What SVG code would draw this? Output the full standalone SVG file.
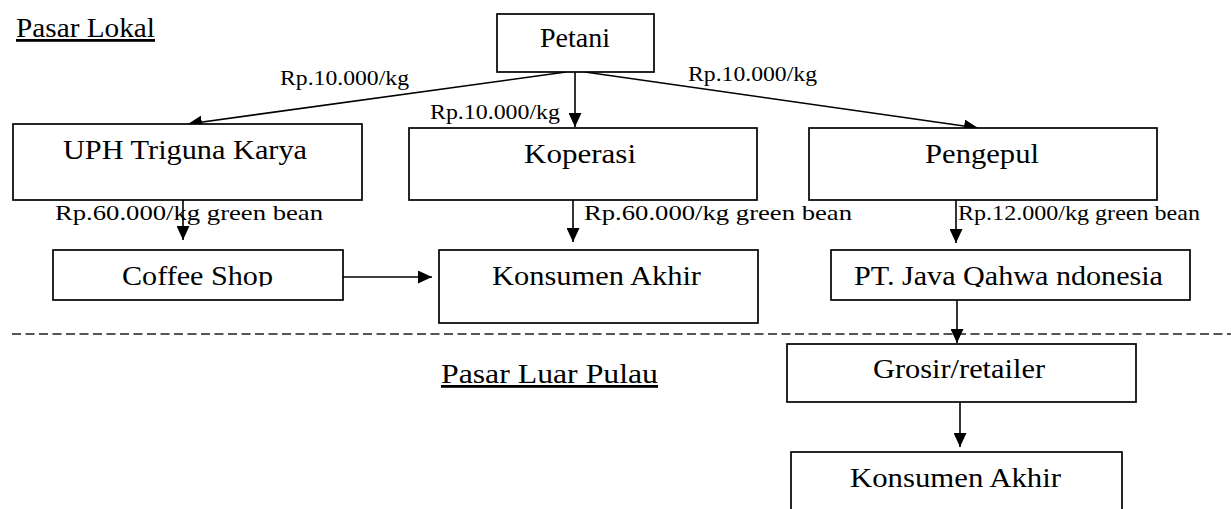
<svg xmlns="http://www.w3.org/2000/svg" width="1231" height="509" viewBox="0 0 1231 509">
<style>
.box{fill:#fff;stroke:#000;stroke-width:1.7}
.t{font-family:"Liberation Serif","Times New Roman",Times,serif;font-size:28px;fill:#000}
.lb{font-family:"Liberation Serif","Times New Roman",Times,serif;font-size:21.5px;fill:#000}
.title{font-family:"Liberation Serif","Times New Roman",Times,serif;font-size:28px;fill:#000;text-decoration:underline}
.ln{stroke:#000;stroke-width:1.6;fill:none}
.dash{stroke:#555;stroke-width:2;stroke-dasharray:9 4.5;fill:none}
</style>
<defs>
<marker id="ah" markerUnits="userSpaceOnUse" markerWidth="15" markerHeight="13" refX="14" refY="6.5" orient="auto">
<path d="M0,0 L14,6.5 L0,13 z" fill="#000"/>
</marker>
<clipPath id="clipCoffee"><rect x="53" y="251" width="290" height="35.5"/></clipPath>
<clipPath id="clipPT"><rect x="831" y="251" width="359" height="36"/></clipPath>
</defs>
<rect width="1231" height="509" fill="#fff"/>

<g id="titles">
<text class="title" x="16" y="37" textLength="139" lengthAdjust="spacingAndGlyphs">Pasar Lokal</text>
<text class="title" x="441" y="383" textLength="217" lengthAdjust="spacingAndGlyphs">Pasar Luar Pulau</text>
</g>

<line class="dash" x1="12" y1="334" x2="1231" y2="334"/>

<g id="connectors">
<line class="ln" x1="575" y1="72" x2="575" y2="127" marker-end="url(#ah)"/>
<line class="ln" x1="566" y1="72" x2="188" y2="124" marker-end="url(#ah)"/>
<line class="ln" x1="585" y1="72" x2="978" y2="128" marker-end="url(#ah)"/>
<line class="ln" x1="183" y1="200" x2="183" y2="240" marker-end="url(#ah)"/>
<line class="ln" x1="573" y1="200" x2="573" y2="242" marker-end="url(#ah)"/>
<line class="ln" x1="956" y1="200" x2="956" y2="243" marker-end="url(#ah)"/>
<line class="ln" x1="343" y1="277" x2="432" y2="277" marker-end="url(#ah)"/>
<line class="ln" x1="957" y1="300" x2="957" y2="343" marker-end="url(#ah)"/>
<line class="ln" x1="960" y1="402" x2="960" y2="447" marker-end="url(#ah)"/>
<text class="lb" x="280" y="85" textLength="129" lengthAdjust="spacingAndGlyphs">Rp.10.000/kg</text>
<text class="lb" x="430" y="119" textLength="130" lengthAdjust="spacingAndGlyphs">Rp.10.000/kg</text>
<text class="lb" x="688" y="81" textLength="129" lengthAdjust="spacingAndGlyphs">Rp.10.000/kg</text>
<text class="lb" x="55" y="220" textLength="268" lengthAdjust="spacingAndGlyphs">Rp.60.000/kg green bean</text>
<text class="lb" x="584" y="220" textLength="268" lengthAdjust="spacingAndGlyphs">Rp.60.000/kg green bean</text>
<text class="lb" x="958" y="220" textLength="242" lengthAdjust="spacingAndGlyphs">Rp.12.000/kg green bean</text>
</g>

<g id="petani">
<rect class="box" x="497" y="14" width="157" height="58"/>
<text class="t" x="540" y="47" textLength="70" lengthAdjust="spacingAndGlyphs">Petani</text>
</g>
<g id="uph">
<rect class="box" x="13" y="124" width="349" height="76"/>
<text class="t" x="63" y="159" textLength="244" lengthAdjust="spacingAndGlyphs">UPH Triguna Karya</text>
</g>
<g id="koperasi">
<rect class="box" x="409" y="128" width="348" height="72"/>
<text class="t" x="524" y="163" textLength="112" lengthAdjust="spacingAndGlyphs">Koperasi</text>
</g>
<g id="pengepul">
<rect class="box" x="809" y="128" width="348" height="72"/>
<text class="t" x="925" y="163" textLength="114" lengthAdjust="spacingAndGlyphs">Pengepul</text>
</g>
<g id="coffee-shop">
<rect class="box" x="53" y="250" width="290" height="50"/>
<text class="t" x="122" y="284.5" textLength="151" lengthAdjust="spacingAndGlyphs" clip-path="url(#clipCoffee)">Coffee Shop</text>
</g>
<g id="konsumen-akhir-1">
<rect class="box" x="439" y="250" width="319" height="73"/>
<text class="t" x="492" y="285" textLength="209" lengthAdjust="spacingAndGlyphs">Konsumen Akhir</text>
</g>
<g id="pt-java">
<rect class="box" x="831" y="250" width="359" height="50"/>
<text class="t" x="854" y="285" textLength="309" lengthAdjust="spacingAndGlyphs" clip-path="url(#clipPT)">PT. Java Qahwa ndonesia</text>
</g>
<g id="grosir">
<rect class="box" x="787" y="344" width="349" height="58"/>
<text class="t" x="873" y="378" textLength="172" lengthAdjust="spacingAndGlyphs">Grosir/retailer</text>
</g>
<g id="konsumen-akhir-2">
<rect class="box" x="791" y="452" width="331" height="70"/>
<text class="t" x="850" y="487" textLength="211" lengthAdjust="spacingAndGlyphs">Konsumen Akhir</text>
</g>
</svg>
